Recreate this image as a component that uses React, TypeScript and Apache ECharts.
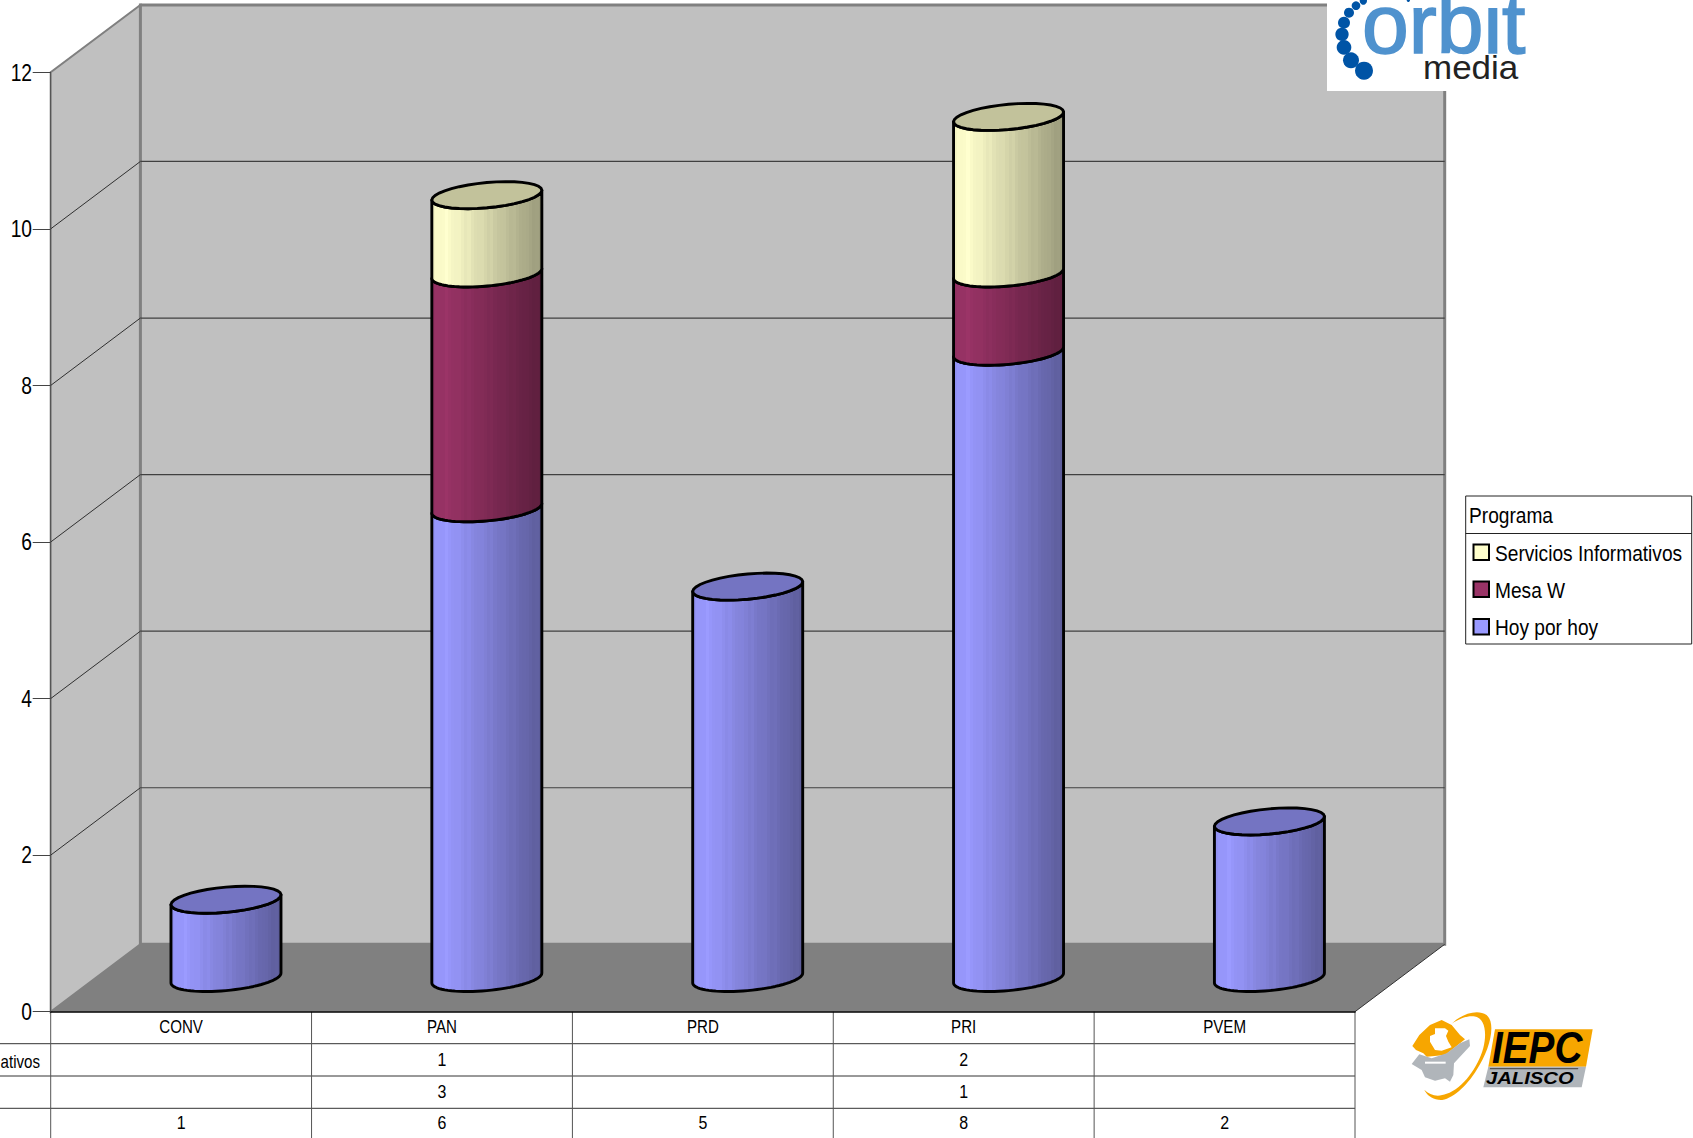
import React, { useEffect, useRef } from "react";
import * as echarts from "echarts";

const categories = ["CONV", "PAN", "PRD", "PRI", "PVEM"];
const serviciosInformativos: (number | null)[] = [null, 1, null, 2, null];
const mesaW: (number | null)[] = [null, 3, null, 1, null];
const hoyPorHoy: (number | null)[] = [1, 6, 5, 8, 2];
const valueTicks = [0, 2, 4, 6, 8, 10, 12];
const legendTitle = "Programa";
const legendLabels = ["Servicios Informativos", "Mesa W", "Hoy por hoy"];
const clippedRowLabel = "ativos";

const COLORS: Record<string, string> = {
  "Servicios Informativos": "#ffffcc",
  "Mesa W": "#993366",
  "Hoy por hoy": "#9999ff",
};
const FONT = "'Liberation Sans',Arial,sans-serif";
const LEFT = 50.7, RIGHT = 1355, TOP = 72.3, BOTTOM = 1011.7;
const DX = 89.7, DY = 67.4;
const ROWS = [1043.7, 1076, 1108.3];
const A = 55, TILT = 4.9, B = 12.6;

echarts.graphic.registerShape(
  "iepcSwoosh",
  echarts.graphic.extendPath(
    "M215,192 C240,165 290,145 320,165 C350,190 330,270 290,330 C260,380 210,425 175,420 C155,418 140,405 133,390 C150,408 175,412 200,402 C250,385 295,320 310,265 C322,220 315,175 285,170 C262,166 235,178 215,192 Z",
    {}
  )
);

function scale(hex: string, f: number) {
  const n = parseInt(hex.slice(1), 16);
  const c = (s: number) => Math.min(255, Math.round(((n >> s) & 255) * f));
  return `rgb(${c(16)},${c(8)},${c(0)})`;
}
const STRIPE = [1, 1.012, 1, 0.99, 1.018, 1, 0.992];
function banded(hex: string) {
  const stops: { offset: number; color: string }[] = [];
  const bands = 34;
  for (let i = 0; i < bands; i++) {
    const p = (i + 0.5) / bands;
    const f = p < 0.12 ? 0.95 + (0.05 * p) / 0.12 : 1 - ((p - 0.12) / 0.88) * 0.4;
    const col = scale(hex, f * STRIPE[i % STRIPE.length]);
    stops.push({ offset: i / bands, color: col }, { offset: (i + 1) / bands, color: col });
  }
  return new echarts.graphic.LinearGradient(0, 0, 1, 0, stops);
}
function arc(cx: number, cy: number, from: number, to: number) {
  const pts: number[][] = [];
  const n = 36;
  for (let i = 0; i <= n; i++) {
    const t = from + ((to - from) * i) / n;
    pts.push([cx + A * Math.cos(t), cy - TILT * Math.cos(t) + B * Math.sin(t)]);
  }
  return pts;
}
function topOf(i: number) {
  return (hoyPorHoy[i] ?? 0) + (mesaW[i] ?? 0) + (serviciosInformativos[i] ?? 0);
}

function cylinderSeries(name: string, values: (number | null)[], bases: number[]) {
  const color = COLORS[name];
  const data: number[][] = [];
  values.forEach((v, i) => {
    if (v != null) data.push([i, bases[i], bases[i] + v, bases[i] + v === topOf(i) ? 1 : 0]);
  });
  return {
    name,
    type: "custom",
    z: 5,
    itemStyle: { color },
    data,
    encode: { x: 0, y: 2 },
    renderItem: (_p: any, api: any) => {
      const c = api.coord([api.value(0), api.value(1)]);
      const d = api.coord([api.value(0), api.value(2)]);
      const cx = c[0] + DX / 2;
      const y0 = c[1] - DY / 2;
      const y1 = d[1] - DY / 2;
      const lower = arc(cx, y0, Math.PI, 0);
      const upper = arc(cx, y1, 0, Math.PI);
      const children: any[] = [
        {
          type: "polygon",
          shape: { points: [...lower, ...upper] },
          style: { fill: banded(color), stroke: "#000", lineWidth: 2.9, lineJoin: "round" },
        },
      ];
      if (api.value(3) === 1) {
        children.push({
          type: "polygon",
          shape: { points: arc(cx, y1, 0, Math.PI * 2) },
          style: { fill: scale(color, 0.76), stroke: "#000", lineWidth: 2.9 },
        });
      }
      return { type: "group", children };
    },
  };
}

function line(x1: number, y1: number, x2: number, y2: number, stroke: string, lineWidth = 1) {
  return { type: "line", shape: { x1, y1, x2, y2 }, style: { stroke, lineWidth } };
}
function label(text: string, x: number, y: number, fontSize: number, align = "center", scaleX = 0.84) {
  return {
    type: "text",
    x,
    y,
    scaleX,
    style: {
      text,
      fill: "#000",
      fontSize,
      fontFamily: FONT,
      align,
      verticalAlign: "middle",
      textAlign: align,
      textVerticalAlign: "middle",
    },
  };
}

const wallsSeries = {
  type: "custom",
  z: 1,
  silent: true,
  data: [[0, 0]],
  renderItem: (_p: any, api: any) => {
    const ch: any[] = [];
    const backL = LEFT + DX, backR = RIGHT + DX;
    const y0 = api.coord([0, 0])[1];
    const y12 = api.coord([0, 12])[1];
    ch.push({
      type: "polygon",
      shape: { points: [[LEFT, y0], [backL, y0 - DY], [backL, y12 - DY], [LEFT, y12]] },
      style: { fill: "#c0c0c0", stroke: "#808080", lineWidth: 2 },
    });
    ch.push({
      type: "polygon",
      shape: { points: [[backL, y0 - DY], [backR, y0 - DY], [backR, y12 - DY], [backL, y12 - DY]] },
      style: { fill: "#c0c0c0", stroke: "#808080", lineWidth: 3 },
    });
    ch.push({
      type: "polygon",
      shape: { points: [[LEFT, y0], [RIGHT, y0], [backR, y0 - DY], [backL, y0 - DY]] },
      style: { fill: "#808080" },
    });
    ch.push(line(RIGHT, y0, backR, y0 - DY, "#333333", 1));
    valueTicks.slice(1, -1).forEach((v) => {
      const y = api.coord([0, v])[1];
      ch.push(line(LEFT, y, backL, y - DY, "#303030", 1));
      ch.push(line(backL, y - DY, backR, y - DY, "#404040", 1.2));
    });
    return { type: "group", children: ch };
  },
};

const tableSeries = {
  type: "custom",
  z: 3,
  silent: true,
  data: [[0, 0]],
  renderItem: (_p: any, api: any) => {
    const ch: any[] = [];
    ROWS.forEach((y) => ch.push(line(0, y, RIGHT, y, "#333333", 1)));
    const band = (RIGHT - LEFT) / categories.length;
    for (let i = 0; i <= categories.length; i++) {
      ch.push(line(LEFT + band * i, BOTTOM, LEFT + band * i, 1138, "#555555", 1));
    }
    categories.forEach((c, i) => ch.push(label(c, api.coord([i, 0])[0], 1027, 18)));
    const rows = [serviciosInformativos, mesaW, hoyPorHoy];
    const rowY = [1059.5, 1091.5, 1123];
    rows.forEach((r, ri) =>
      r.forEach((v, i) => {
        if (v != null) ch.push(label(String(v), api.coord([i, 0])[0], rowY[ri], 19));
      })
    );
    ch.push(label(clippedRowLabel, 40, 1062, 18, "right"));
    valueTicks.forEach((v) => ch.push(label(String(v), 32, api.coord([0, v])[1], 24, "right", 0.8)));
    return { type: "group", children: ch };
  },
};

function graphics() {
  const Z = 100;
  const ix = (x: number) => 1380 + x / 3;
  const iy = (y: number) => 960 + y / 3;
  const pts = (a: number[][]) => a.map(([x, y]) => [ix(x), iy(y)]);
  const dots = [
    [252, 212, 27], [213, 181, 24], [192, 142, 22], [186, 103, 20], [192, 68, 18],
    [207, 38, 15], [228, 17, 13], [250, 3, 11], [385, 1, 5],
  ];
  const legendY = [552.5, 589.5, 627];
  const els: any[] = [
    { type: "rect", z: Z, shape: { x: 1327, y: 0, width: 205, height: 91 }, style: { fill: "#fff" } },
    ...dots.map(([x, y, r]) => ({
      type: "circle",
      z: Z,
      shape: { cx: 1280 + x / 3, cy: y / 3, r: r / 3 },
      style: { fill: "#0054a6" },
    })),
    {
      type: "text", z: Z, x: 1362, y: 24,
      style: { text: "orbit", fill: "#4f92ce", stroke: "#4f92ce", lineWidth: 1.6, fontSize: 84, fontFamily: FONT, align: "left", verticalAlign: "middle", textAlign: "left", textVerticalAlign: "middle" },
    },
    {
      type: "text", z: Z, x: 1423, y: 67, scaleX: 1.06,
      style: { text: "media", fill: "#222", fontSize: 33, fontFamily: FONT, align: "left", verticalAlign: "middle", textAlign: "left", textVerticalAlign: "middle" },
    },
    // Legend box
    { type: "rect", z: Z, shape: { x: 1465.7, y: 496, width: 226, height: 148 }, style: { fill: "#fff", stroke: "#222", lineWidth: 1 } },
    { type: "line", z: Z, shape: { x1: 1465.7, y1: 533.5, x2: 1691.7, y2: 533.5 }, style: { stroke: "#222", lineWidth: 1 } },
    { ...label(legendTitle, 1469, 514.5, 22, "left", 0.87), z: Z },
    ...legendLabels.flatMap((name, i) => [
      { type: "rect", z: Z, shape: { x: 1473.5, y: legendY[i] - 8, width: 15.5, height: 15.5 }, style: { fill: COLORS[name], stroke: "#000", lineWidth: 2 } },
      { ...label(name, 1495, legendY[i], 22, "left", 0.87), z: Z },
    ]),
    // IEPC logo
    { type: "polygon", z: Z, shape: { points: pts([[345, 208], [638, 208], [618, 320], [325, 320]]) }, style: { fill: "#f7a600" } },
    { type: "polygon", z: Z, shape: { points: pts([[325, 320], [618, 320], [605, 382], [310, 382]]) }, style: { fill: "#b0b5ba" } },
    { type: "polygon", z: Z, shape: { points: pts([[97, 258], [118, 225], [150, 195], [185, 180], [215, 195], [240, 225], [255, 238], [225, 262], [195, 285], [140, 290], [130, 280], [108, 270]]) }, style: { fill: "#f7a600" } },
    { type: "polygon", z: Z, shape: { points: pts([[95, 312], [118, 283], [155, 295], [200, 280], [240, 250], [268, 238], [270, 258], [245, 285], [222, 310], [220, 345], [210, 365], [195, 355], [165, 362], [135, 352], [125, 330]]) }, style: { fill: "#b0b5ba" } },
    { type: "polygon", z: Z, shape: { points: pts([[150, 228], [165, 222], [165, 205], [195, 205], [205, 212], [198, 228], [205, 245], [215, 262], [185, 272], [165, 270], [150, 245]]) }, style: { fill: "#fff" } },
    { type: "polygon", z: Z, shape: { points: pts([[135, 305], [197, 305], [197, 311], [135, 311]]) }, style: { fill: "#fff" } },
    { type: "iepcSwoosh", z: Z, x: 1380, y: 960, scaleX: 1 / 3, scaleY: 1 / 3, style: { fill: "#f7a600" } },
    { type: "polygon", z: Z, shape: { points: pts([[330, 324], [595, 324], [594, 328], [329, 328]]) }, style: { fill: "#555" } },
    {
      type: "text", z: Z, x: ix(336), y: iy(263), scaleX: 0.88,
      style: { text: "IEPC", fill: "#000", fontSize: 44, fontWeight: "bold", fontStyle: "italic", fontFamily: FONT, align: "left", verticalAlign: "middle", textAlign: "left", textVerticalAlign: "middle" },
    },
    {
      type: "text", z: Z, x: ix(318), y: iy(354), scaleX: 1.19,
      style: { text: "JALISCO", fill: "#000", fontSize: 17, fontWeight: "bold", fontStyle: "italic", fontFamily: FONT, align: "left", verticalAlign: "middle", textAlign: "left", textVerticalAlign: "middle" },
    },
  ];
  return els;
}

export default function App() {
  const ref = useRef<HTMLDivElement>(null);
  useEffect(() => {
    document.body.style.margin = "0";
    const chart = echarts.init(ref.current!, null, { renderer: "svg" });
    const midBases = hoyPorHoy.map((v) => v ?? 0);
    const topBases = hoyPorHoy.map((v, i) => (v ?? 0) + (mesaW[i] ?? 0));
    chart.setOption({
      animation: false,
      backgroundColor: "#fff",
      grid: { left: LEFT, right: 1693 - RIGHT, top: TOP, bottom: 1138 - BOTTOM },
      xAxis: {
        type: "category",
        data: categories,
        axisLine: { show: true, onZero: false, lineStyle: { color: "#000", width: 1.5 } },
        axisTick: { show: false },
        axisLabel: { show: false },
        z: 6,
      },
      yAxis: {
        type: "value",
        min: 0,
        max: 12,
        interval: 2,
        splitLine: { show: false },
        axisLine: { show: true, lineStyle: { color: "#555", width: 1 } },
        axisTick: { show: true, length: 18, lineStyle: { color: "#444", width: 1 } },
        axisLabel: { show: false },
        z: 6,
      },
      graphic: { elements: graphics() },
      series: [
        wallsSeries,
        tableSeries,
        cylinderSeries("Hoy por hoy", hoyPorHoy, hoyPorHoy.map(() => 0)),
        cylinderSeries("Mesa W", mesaW, midBases),
        cylinderSeries("Servicios Informativos", serviciosInformativos, topBases),
      ],
    });
    return () => chart.dispose();
  }, []);
  return <div ref={ref} style={{ position: "absolute", left: 0, top: 0, width: 1693, height: 1138 }} />;
}
